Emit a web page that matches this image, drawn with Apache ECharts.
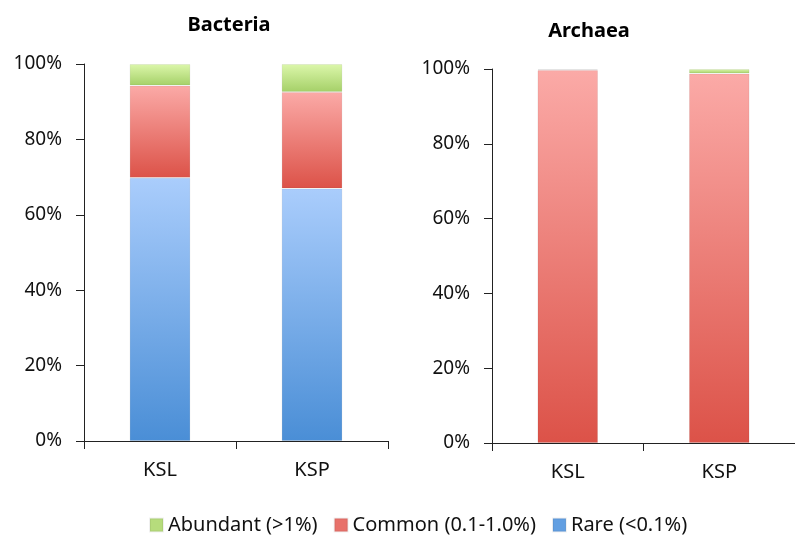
<!DOCTYPE html>
<html>
<head>
<meta charset="utf-8">
<script src="https://cdn.jsdelivr.net/npm/echarts@6/dist/echarts.min.js"></script>
<style>
  html, body { margin: 0; padding: 0; background: #fff; }
  #chart { width: 795px; height: 540px; }
</style>
</head>
<body>
<div id="chart"></div>
<script>
// Relative abundance classes of OTUs per sample (percent of reads)
const samples = ['KSL', 'KSP'];
const panelTitles = ['Bacteria', 'Archaea'];
const classNames = ['Abundant (>1%)', 'Common (0.1-1.0%)', 'Rare (<0.1%)'];

const bacteriaRare = [69.8, 67.0];
const bacteriaCommon = [24.5, 25.6];
const bacteriaAbundant = [5.7, 7.4];

const archaeaRare = [0, 0];
const archaeaCommon = [99.7, 98.8];
const archaeaAbundant = [0.3, 1.2];

const yTicks = [0, 20, 40, 60, 80, 100];

const FONT = 'Noto Sans';

function grad(top, bottom) {
  return new echarts.graphic.LinearGradient(0, 0, 0, 1, [
    { offset: 0, color: top },
    { offset: 1, color: bottom }
  ]);
}
const fills = {
  abundant: grad('#dcf7ab', '#a5d068'),
  common: grad('#fbaaa7', '#dc5248'),
  rare: grad('#aacdfc', '#4a8ed6')
};
const legendColors = ['#b6dc7c', '#e8716a', '#629fe2'];

const chart = echarts.init(document.getElementById('chart'));

const axisLine = { show: true, lineStyle: { color: '#222', width: 1 } };
const axisTick = { show: true, length: 8, lineStyle: { color: '#222', width: 1 } };

function yAxis(gridIndex) {
  return {
    type: 'value', gridIndex, min: yTicks[0], max: yTicks[yTicks.length - 1], interval: 20,
    axisLine, axisTick: { ...axisTick, inside: false },
    splitLine: { show: false },
    axisLabel: { formatter: '{value}%', fontFamily: FONT, fontSize: 19, color: '#111', margin: 22 }
  };
}
function xAxis(gridIndex) {
  return {
    type: 'category', gridIndex, data: samples, boundaryGap: true,
    axisLine, axisTick: { ...axisTick, alignWithLabel: false },
    axisLabel: { fontFamily: FONT, fontSize: 20, color: '#111', margin: 19 }
  };
}

function bar(name, idx, data, fill, colorIdx) {
  return {
    name, type: 'bar', stack: 'p' + idx, xAxisIndex: idx, yAxisIndex: idx,
    data, barWidth: '40%',
    itemStyle: { color: fill, borderColor: 'rgba(0,0,0,0.06)', borderWidth: 1 },
    color: legendColors[colorIdx],
    emphasis: { disabled: true },
    animation: false
  };
}

chart.setOption({
  animation: false,
  title: [
    { text: panelTitles[0], left: 224, top: 10, textAlign: 'center',
      textStyle: { fontFamily: FONT, fontSize: 20, fontWeight: 'bold', color: '#000' } },
    { text: panelTitles[1], left: 584, top: 16, textAlign: 'center',
      textStyle: { fontFamily: FONT, fontSize: 20, fontWeight: 'bold', color: '#000' } }
  ],
  legend: {
    bottom: 0, left: 144, icon: 'rect', itemWidth: 13, itemHeight: 13, itemGap: 16,
    data: classNames.map((n, i) => ({ name: n, itemStyle: { color: legendColors[i] } })),
    textStyle: { fontFamily: FONT, fontSize: 20, color: '#111' },
    selectedMode: false
  },
  grid: [
    { left: 84, width: 304, top: 64, height: 377 },
    { left: 492, width: 313, top: 69, height: 374 }
  ],
  xAxis: [xAxis(0), xAxis(1)],
  yAxis: [yAxis(0), yAxis(1)],
  series: [
    bar(classNames[2], 0, bacteriaRare, fills.rare, 2),
    bar(classNames[1], 0, bacteriaCommon, fills.common, 1),
    bar(classNames[0], 0, bacteriaAbundant, fills.abundant, 0),
    bar(classNames[2], 1, archaeaRare, fills.rare, 2),
    bar(classNames[1], 1, archaeaCommon, fills.common, 1),
    bar(classNames[0], 1, archaeaAbundant, fills.abundant, 0)
  ]
});
</script>
</body>
</html>
